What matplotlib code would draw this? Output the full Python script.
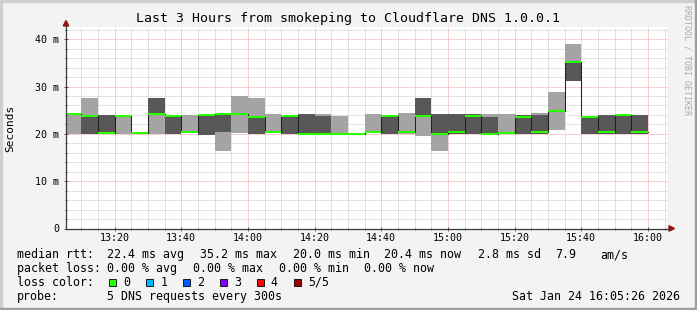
import matplotlib
matplotlib.use("Agg")
import matplotlib.pyplot as plt
from matplotlib.patches import Rectangle, Polygon
from matplotlib.lines import Line2D

W, H = 697, 310
MONO = "DejaVu Sans Mono"

# ---- data: one 5-minute bin per entry, start in minutes after 13:00 ----
bin_start = list(range(5, 180, 5))
# sorted ping rtt per bin (ms): ping1 (min) .. ping5 (max)
ping1 = [20.0, 20.0, 20.0, 20.0, 20.1, 20.0, 20.0, 20.1, 19.7, 16.4, 20.2, 20.0,
         20.1, 20.0, 19.9, 19.9, 19.9, 20.0, 20.1, 20.0, 20.0, 19.6, 16.4, 20.0,
         20.0, 19.9, 20.0, 20.0, 20.0, 20.8, 31.2, 20.0, 20.0, 20.0, 20.0]
ping2 = [24.0, 20.0, 20.0, 23.7, 20.2, 24.0, 20.0, 20.3, 19.7, 20.4, 24.1, 20.0,
         20.3, 20.0, 19.9, 19.9, 20.0, 20.0, 20.4, 20.0, 20.4, 23.7, 20.0, 20.0,
         20.0, 19.9, 20.2, 20.0, 20.0, 24.9, 31.2, 20.0, 20.0, 20.0, 20.0]
median = [24.1, 23.7, 20.2, 23.7, 20.2, 24.1, 23.7, 20.3, 24.0, 24.1, 24.1, 23.6,
          20.3, 23.7, 19.9, 19.9, 20.0, 20.0, 20.4, 23.7, 20.4, 23.7, 20.0, 20.4,
          23.7, 19.9, 20.2, 23.6, 20.3, 24.9, 35.2, 23.6, 20.3, 23.9, 20.3]
ping4 = [24.1, 24.0, 24.0, 23.8, 20.2, 27.6, 23.8, 20.3, 24.1, 24.1, 24.1, 23.6,
         20.3, 23.8, 24.1, 23.8, 20.0, 20.0, 20.4, 23.8, 20.4, 27.6, 24.1, 24.1,
         24.1, 23.6, 20.2, 24.0, 24.0, 24.9, 35.3, 23.8, 24.0, 24.0, 24.0]
ping5 = [24.2, 27.6, 24.0, 23.8, 20.3, 27.6, 23.8, 24.0, 24.1, 24.4, 28.0, 27.6,
         24.1, 23.8, 24.1, 24.1, 23.7, 20.0, 24.1, 23.8, 24.4, 27.6, 24.1, 24.1,
         24.1, 24.1, 24.1, 24.0, 24.5, 28.8, 39.0, 23.8, 24.0, 24.0, 24.0]

time_ticks = [20, 40, 60, 80, 100, 120, 140, 160, 180]
time_labels = ["13:20", "13:40", "14:00", "14:20", "14:40",
               "15:00", "15:20", "15:40", "16:00"]
rtt_ticks = [0, 10, 20, 30, 40]
rtt_labels = ["0", "10 m", "20 m", "30 m", "40 m"]

title = "Last 3 Hours from smokeping to Cloudflare DNS 1.0.0.1"
rtt_stats = ["median rtt:", "22.4 ms avg", "35.2 ms max", "20.0 ms min",
             "20.4 ms now", "2.8 ms sd", "7.9", "am/s"]
loss_stats = ["packet loss:", "0.00 % avg", "0.00 % max", "0.00 % min", "0.00 % now"]
loss_names = ["0", "1", "2", "3", "4", "5/5"]
loss_colors = ["#26ff00", "#00b8ff", "#0059ff", "#7e00ff", "#ff0000", "#a10000"]
probe_text = "5 DNS requests every 300s"
stamp = "Sat Jan 24 16:05:26 2026"

# ---- layout (pixels of the 697x310 image) ----
x0_px, x1_px = 66, 667
y0_px, y1_px = 228.5, 27
px_per_min = 600 / 180
px_per_ms = 4.7325
t_start = 5.433


def fx(x):
    return x / W


def fy(y):
    return 1 - y / H


fig = plt.figure(figsize=(W / 100, H / 100), dpi=100, facecolor="#f3f3f3")
ax = fig.add_axes([fx(x0_px), fy(y0_px), (x1_px - x0_px) / W, (y0_px - y1_px) / H])
ax.set_facecolor("white")
ax.set_xlim(t_start, t_start + (x1_px - x0_px) / px_per_min)
ax.set_ylim(0, (y0_px - y1_px) / px_per_ms)
for s in ax.spines.values():
    s.set_visible(False)

# grid: minor grey dots, major pink dots
dots = (0, (1, 1))
for m in range(10, 186, 5):
    major = m % 20 == 0
    ax.axvline(m, color="#f0a0a0" if major else "#c8c8c8", lw=0.72, ls=dots, zorder=0.5)
for v in range(2, 43, 2):
    major = v % 10 == 0
    ax.axhline(v, color="#f0a0a0" if major else "#c8c8c8", lw=0.72, ls=dots, zorder=0.5)

# smoke
ax.bar(bin_start, [b - a for a, b in zip(ping1, ping5)], bottom=ping1, width=5,
       align="edge", color="#a4a4a4", linewidth=0, zorder=1)
ax.bar(bin_start, [b - a for a, b in zip(ping2, ping4)], bottom=ping2, width=5,
       align="edge", color="#585858", linewidth=0, zorder=2)

# median line + loss coloured median bars
edges = bin_start + [bin_start[-1] + 5]
ax.step(edges, median + [median[-1]], where="post", color="#202020", lw=0.75, zorder=3)
sw = 1.0 / px_per_ms
ax.bar(bin_start, [2 * sw] * len(median), bottom=[m - sw for m in median], width=5,
       align="edge", color=loss_colors[0], linewidth=0, zorder=4)

ax.set_xticks(time_ticks, time_labels)
ax.set_xticks([m for m in range(10, 186, 5) if m % 20], minor=True)
ax.set_yticks(rtt_ticks, rtt_labels)
ax.set_yticks([v for v in range(2, 43, 2) if v % 10], minor=True)
ax.tick_params(which="both", direction="inout", color="#555555", width=0.7)
ax.tick_params(which="major", length=3)
ax.tick_params(which="minor", length=2)
ax.tick_params(axis="y", which="major", pad=3.3)
ax.tick_params(axis="x", which="major", pad=2.0)
for lab in ax.get_xticklabels() + ax.get_yticklabels():
    lab.set_fontfamily(MONO)
    lab.set_fontsize(7.2)

# axes with arrows
axis_col = "#3a3a3a"
arrow_col = "#9a1010"
fig.add_artist(Line2D([fx(66), fx(66)], [fy(228.5), fy(25)], color=axis_col, lw=0.9))
fig.add_artist(Line2D([fx(66), fx(669.5)], [fy(228.5), fy(228.5)], color=axis_col, lw=0.9))
fig.add_artist(Polygon([(fx(66), fy(20.5)), (fx(63.3), fy(26)), (fx(68.7), fy(26))],
                       closed=True, color=arrow_col, transform=fig.transFigure))
fig.add_artist(Polygon([(fx(674.5), fy(228.5)), (fx(669), fy(225.8)), (fx(669), fy(231.2))],
                       closed=True, color=arrow_col, transform=fig.transFigure))

# image border (3d shading)
fig.add_artist(Rectangle((0, fy(2)), 1, 2 / H, color="#cfcfcf", transform=fig.transFigure))
fig.add_artist(Rectangle((0, 0), 2 / W, 1, color="#cfcfcf", transform=fig.transFigure))
fig.add_artist(Rectangle((0, 0), 1, 2 / H, color="#9e9e9e", transform=fig.transFigure))
fig.add_artist(Rectangle((1 - 2 / W, 0), 2 / W, 1, color="#9e9e9e", transform=fig.transFigure))

# titles
fig.text(0.5, fy(18.5), title, ha="center", va="center", family=MONO, size=9.5)
fig.text(fx(10), fy(128), "Seconds", rotation=90, ha="center", va="center",
         family=MONO, size=8.0)
fig.text(fx(687.5), fy(60), "RRDTOOL / TOBI OETIKER", rotation=-90, ha="center",
         va="center", family=MONO, size=6.0, color="#aaaaaa")

# legend block
fs = 8.4
for s, x in zip(rtt_stats, [16.7, 107.3, 200, 292.7, 384.3, 478.3, 555, 600]):
    fig.text(fx(x), fy(254.7), s, ha="left", va="center", family=MONO, size=fs)
for s, x in zip(loss_stats, [16.7, 107.3, 193.3, 279.3, 364.5]):
    fig.text(fx(x), fy(268.5), s, ha="left", va="center", family=MONO, size=fs)
fig.text(fx(16.7), fy(282.3), "loss color:", ha="left", va="center", family=MONO, size=fs)
for i, (name, col) in enumerate(zip(loss_names, loss_colors)):
    bx = 109 + 36.9 * i
    fig.add_artist(Rectangle((fx(bx), fy(286)), 7 / W, 7 / H, facecolor=col,
                             edgecolor="black", lw=0.6, transform=fig.transFigure))
    fig.text(fx(bx + 14.3), fy(282.3), name, ha="left", va="center", family=MONO, size=fs)
fig.text(fx(16.7), fy(296.3), "probe:", ha="left", va="center", family=MONO, size=fs)
fig.text(fx(107.3), fy(296.3), probe_text, ha="left", va="center", family=MONO, size=fs)
fig.text(fx(680.5), fy(296.3), stamp, ha="right", va="center", family=MONO, size=fs)

fig.savefig("out.png", dpi=100, facecolor=fig.get_facecolor())
